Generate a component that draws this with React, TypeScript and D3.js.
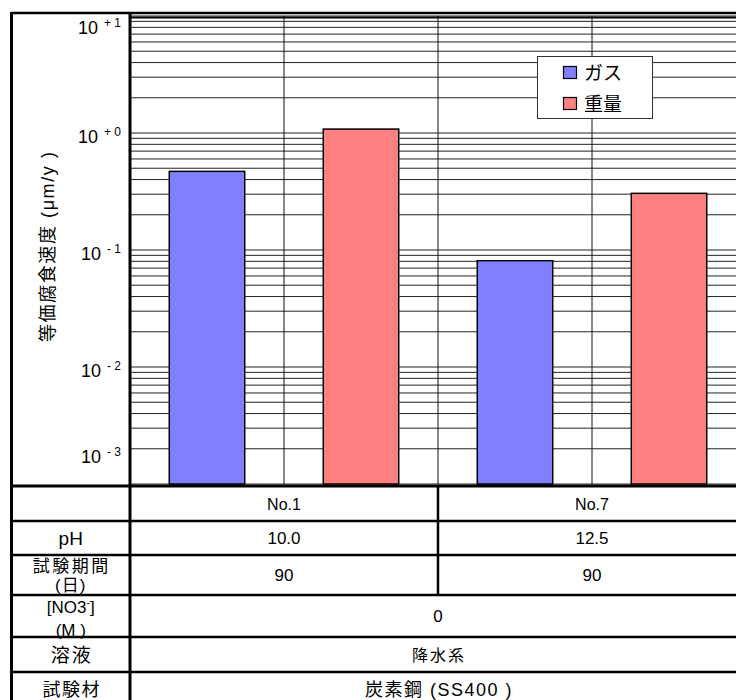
import React from 'react';
import * as d3 from 'd3';

// chart values
const categories = ['No.1', 'No.7'];
const seriesNames = ['ガス', '重量'];
const gasValues = [0.47, 0.081];
const weightValues = [1.08, 0.305];
const seriesColors = ['#8080FF', '#FF8080'];
const yTickValues = [1e-3, 1e-2, 1e-1, 1, 10];
const yTickExponents = ['- 3', '- 2', '- 1', '+ 0', '+ 1'];
const phValues = ['10.0', '12.5'];
const periodValues = ['90', '90'];
const no3Value = '0';
const solutionValue = '降水系';
const materialValue = '炭素鋼 (SS400 )';

const W = 736;
const H = 700;
const plotLeft = 130;
const plotRight = 746;
const plotTop = 16;
const plotBottom = 484;
const frameLeft = 11.5;
const rowLines = [486, 521, 555, 595, 637, 672, 706];
const FONT = "'Liberation Sans', 'Noto Sans CJK JP', sans-serif";

const App = () => {
  const y = d3.scaleLog().domain([1e-3, 10]).range([plotBottom, plotTop]);
  const slots = categories.flatMap(c => seriesNames.map(s => `${c}|${s}`));
  const x = d3.scaleBand().domain(slots).range([plotLeft, plotRight]).padding(0);
  const bw = x.bandwidth();
  const barW = bw * 0.49;

  const bars = categories.flatMap((c, i) => [
    { key: `${c}|${seriesNames[0]}`, v: gasValues[i], color: seriesColors[0] },
    { key: `${c}|${seriesNames[1]}`, v: weightValues[i], color: seriesColors[1] },
  ]);

  const catCenter = (c: string) =>
    ((x(`${c}|${seriesNames[0]}`) as number) + (x(`${c}|${seriesNames[1]}`) as number) + bw) / 2;
  const catBoundary = (x(`${categories[1]}|${seriesNames[0]}`) as number);
  const labelCol = (frameLeft + plotLeft) / 2;
  const mergedCenter = (plotLeft + plotRight) / 2;
  const rowMid = (i: number) => (rowLines[i] + rowLines[i + 1]) / 2;

  // tick label y: near the tick, kept inside the plot
  const labelY = (t: number) => Math.max(plotTop + 18, Math.min(plotBottom - 21, y(t) + 10));

  return (
    <svg width={W} height={H} style={{ position: 'absolute', left: 0, top: 0, background: '#fff' }}
      fontFamily={FONT}>
      <rect x={0} y={0} width={W} height={H} fill="#fff" />

      {/* horizontal log grid */}
      {y.ticks().map((t, i) => (
        <line key={'g' + i} x1={plotLeft} x2={plotRight} y1={y(t)} y2={y(t)} stroke="#222" strokeWidth={1} />
      ))}
      {/* vertical grid at slot boundaries */}
      {slots.slice(1).map(s => (
        <line key={'v' + s} x1={x(s)} x2={x(s)} y1={plotTop} y2={plotBottom} stroke="#111" strokeWidth={1} />
      ))}

      {/* bars */}
      {bars.map(b => (
        <rect key={b.key} x={(x(b.key) as number) + (bw - barW) / 2} y={y(b.v)}
          width={barW} height={plotBottom - y(b.v)} fill={b.color} stroke="#000" strokeWidth={1.5} />
      ))}

      {/* legend */}
      <rect x={537.5} y={56.5} width={115} height={62} fill="#fff" stroke="#333" strokeWidth={1} />
      {seriesNames.map((s, i) => (
        <g key={s}>
          <rect x={563.5} y={66.5 + i * 31} width={13} height={12} fill={seriesColors[i]} stroke="#000" strokeWidth={1.2} />
          <text x={584} y={80 + i * 31} fontSize={19}>{s}</text>
        </g>
      ))}

      {/* y tick labels */}
      {yTickValues.map((t, i) => (
        <text key={'t' + i} x={121} y={labelY(t)} textAnchor="end" fontSize={18} fill="#000">
          10<tspan dx={6} dy={-7} fontSize={12}>{yTickExponents[i]}</tspan>
        </text>
      ))}

      {/* y axis title */}
      <text transform={`translate(54,${(plotTop + plotBottom) / 2 - 3}) rotate(-90)`} textAnchor="middle"
        fontSize={18} textLength={190} lengthAdjust="spacing">等価腐食速度 (μm/y )</text>

      {/* frame and table lines */}
      <line x1={frameLeft} x2={W} y1={13} y2={13} stroke="#000" strokeWidth={2.5} />
      <line x1={plotLeft} x2={W} y1={17.5} y2={17.5} stroke="#000" strokeWidth={2} />
      <line x1={frameLeft} x2={frameLeft} y1={12} y2={H} stroke="#000" strokeWidth={3} />
      <line x1={plotLeft} x2={plotLeft} y1={12} y2={H} stroke="#000" strokeWidth={3} />
      {rowLines.slice(0, -1).map((ly, i) => (
        <line key={'r' + i} x1={frameLeft} x2={W} y1={ly} y2={ly} stroke="#000" strokeWidth={i === 0 ? 3 : 2.5} />
      ))}
      <line x1={catBoundary} x2={catBoundary} y1={rowLines[0]} y2={rowLines[3]} stroke="#000" strokeWidth={2.5} />

      {/* table text */}
      {categories.map(c => (
        <text key={'c' + c} x={catCenter(c)} y={rowMid(0) + 6} textAnchor="middle" fontSize={16}>{c}</text>
      ))}
      <text x={labelCol} y={rowMid(1) + 7} textAnchor="middle" fontSize={19}>pH</text>
      {phValues.map((v, i) => (
        <text key={'p' + i} x={catCenter(categories[i])} y={rowMid(1) + 6} textAnchor="middle" fontSize={17}>{v}</text>
      ))}
      <text x={labelCol + 1} y={rowLines[2] + 17} textAnchor="middle" fontSize={17} letterSpacing={2.5}>試験期間</text>
      <text x={labelCol} y={rowLines[2] + 36} textAnchor="middle" fontSize={17} letterSpacing={1}>(日)</text>
      {periodValues.map((v, i) => (
        <text key={'d' + i} x={catCenter(categories[i])} y={rowMid(2) + 6} textAnchor="middle" fontSize={17}>{v}</text>
      ))}
      <text x={labelCol} y={rowLines[3] + 18} textAnchor="middle" fontSize={17}>
        [NO3<tspan dy={-7} fontSize={10}>-</tspan><tspan dy={7}>]</tspan>
      </text>
      <text x={labelCol} y={rowLines[3] + 41} textAnchor="middle" fontSize={17}>(M )</text>
      <text x={mergedCenter} y={rowMid(3) + 6} textAnchor="middle" fontSize={17}>{no3Value}</text>
      <text x={labelCol + 1} y={rowMid(4) + 7} textAnchor="middle" fontSize={19} letterSpacing={2}>溶液</text>
      <text x={mergedCenter + 1} y={rowMid(4) + 6} textAnchor="middle" fontSize={16} letterSpacing={2}>{solutionValue}</text>
      <text x={labelCol + 1} y={rowMid(5) + 7} textAnchor="middle" fontSize={18} letterSpacing={1.5}>試験材</text>
      <text x={mergedCenter + 1} y={rowMid(5) + 7} textAnchor="middle" fontSize={18} letterSpacing={1.5}>{materialValue}</text>
    </svg>
  );
};

export default App;
